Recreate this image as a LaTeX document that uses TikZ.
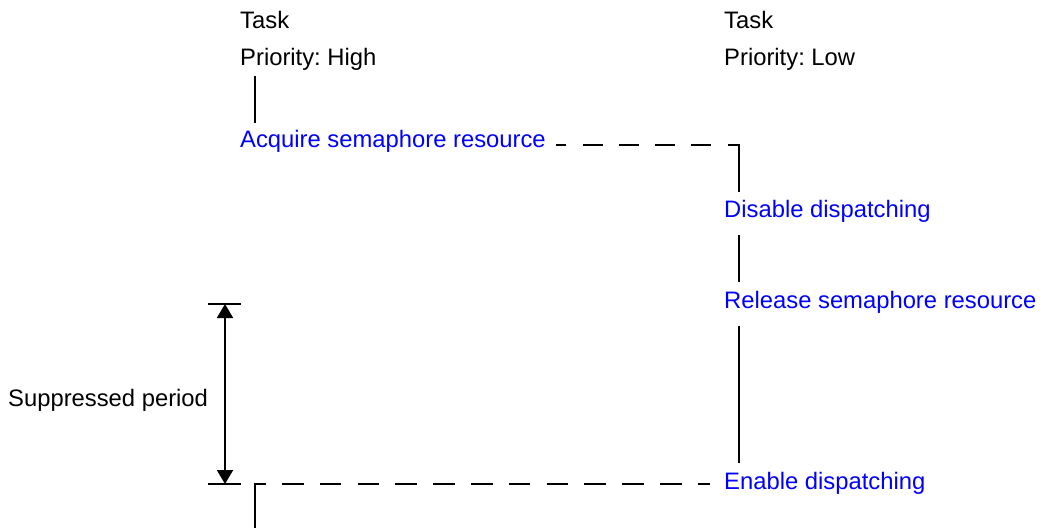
\documentclass[tikz,border=0pt]{standalone}
\usepackage{fontspec}
\setmainfont{Liberation Sans}
\usetikzlibrary{arrows.meta}
\definecolor{actblue}{RGB}{0,0,255}
\frenchspacing
\begin{document}
\begin{tikzpicture}[x=1pt,y=-1pt,
  lbl/.style={anchor=base west, inner sep=0pt, font=\fontsize{23.8}{28}\selectfont},
  act/.style={lbl, text=actblue},
  ln/.style={line width=1.9pt},
  dshtop/.style={ln, dash pattern=on 20pt off 16.25pt, dash phase=9.7pt},
  dshbot/.style={ln, dash pattern=on 21.5pt off 16.3pt},
  dimarrow/.style={line width=1.9pt, {Triangle[width=16pt,length=14pt]}-{Triangle[width=16pt,length=14pt]}}]
\useasboundingbox (0,0) rectangle (1040,528);
% labels
\node[lbl] (t1) at (240,28) {Task};
\node[lbl] (p1) at (240,65) {Priority: High};
\node[lbl] (t2) at (724,28) {Task};
\node[lbl] (p2) at (724,65) {Priority: Low};
\node[act] (acq) at (240,147) {Acquire semaphore resource};
\node[act] (dis) at (724,217) {Disable dispatching};
\node[act] (rel) at (724,308) {Release semaphore resource};
\node[act] (ena) at (724,489) {Enable dispatching};
\node[lbl] (sup) at (8,406) {Suppressed period};
% coordinates
\coordinate (hx) at (255,0);
\coordinate (lx) at (739,0);
\coordinate (c1) at (739,145);
\coordinate (c2) at (255,484);
\coordinate (bot) at (255,528);
\coordinate (dt) at (225,304);
\coordinate (db) at (225,484);
% high task line
\draw[ln] (hx |- 0,76) -- (hx |- 0,123);
% acquire -> disable
\draw[dshtop] (556,145) -- (c1);
\draw[ln] (728,145) -- (c1) -- (lx |- 0,192);
% disable -> release
\draw[ln] (lx |- 0,235) -- (lx |- 0,282);
% release -> enable
\draw[ln] (lx |- 0,326) -- (lx |- 0,463);
% enable -> high task
\draw[dshbot] (282,484) -- (710,484);
\draw[ln] (265.7,484) -- (c2) -- (bot);
% dimension
\draw[ln] (208,304) -- (241,304);
\draw[ln] (208,484) -- (241,484);
\draw[dimarrow] (dt) -- (db);
\end{tikzpicture}
\end{document}
